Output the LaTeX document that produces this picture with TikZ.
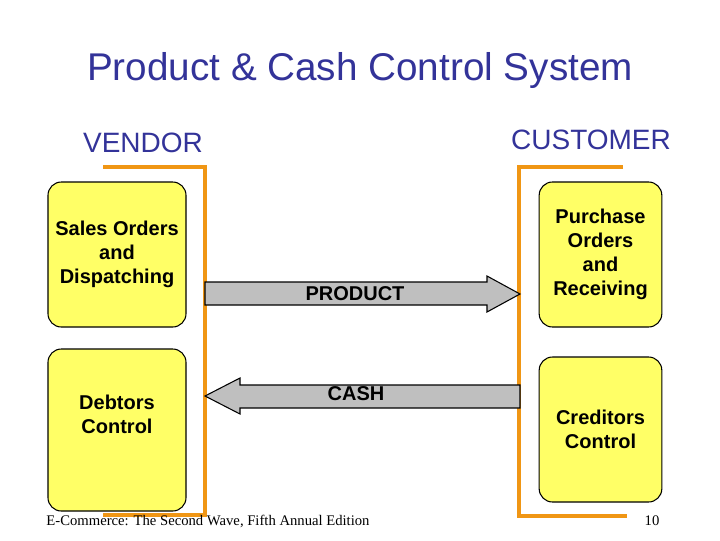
\documentclass[tikz,border=0pt]{standalone}
\usepackage{fontspec}
\setmainfont{Liberation Sans}
\newfontfamily\footfont{Liberation Serif}
\usetikzlibrary{positioning}
\definecolor{titleblue}{RGB}{51,51,153}
\definecolor{boxyellow}{RGB}{255,255,102}
\definecolor{lineorange}{RGB}{240,150,20}
\begin{document}
\begin{tikzpicture}[x=0.75pt,y=-0.75pt,
  box/.style={rectangle,rounded corners=10pt,draw=black,thick,fill=boxyellow,
    minimum width=103.5pt,align=center,font=\bfseries\fontsize{15}{18}\selectfont},
  side/.style={draw=lineorange,line width=3.5pt},
  flow/.style={draw=black,thick,fill=black!25}]
\useasboundingbox (0,0) rectangle (720,540);
\node[text=titleblue,font=\fontsize{29}{34}\selectfont] (title) at (360,70) {Product \& Cash Control System};
\node[text=titleblue,font=\fontsize{21}{25}\selectfont] (vendor) at (143,143) {VENDOR};
\node[text=titleblue,font=\fontsize{21}{25}\selectfont] (customer) at (591,140) {CUSTOMER};
% vendor side
\node[box,minimum height=108.75pt] (sales) at (117,254.5) {Sales Orders\\and\\Dispatching};
\node[box,minimum height=121.5pt] (debtors) at (117,430) {Debtors\\Control\\[6pt]};
% customer side
\node[box,minimum width=92pt,minimum height=108.75pt] (purchase) at (600.5,254.5) {Purchase\\Orders\\and\\Receiving};
\node[box,minimum width=92pt,minimum height=108.75pt] (creditors) at (600.5,429.5) {Creditors\\Control};
% orange brackets
\draw[side] (103,167) -- (205,167) -- (205,515) -- (103,515);
\draw[side] (623,167) -- (519,167) -- (519,516) -- (627,516);
% product arrow
\draw[flow] (205,282) -- (487,282) -- (487,276) -- (520,294) -- (487,312) -- (487,305) -- (205,305) -- cycle;
\node[font=\bfseries\fontsize{15}{18}\selectfont] (product) at (355,294) {PRODUCT};
% cash arrow
\draw[flow] (520,385) -- (240,385) -- (240,378) -- (205,396) -- (240,414) -- (240,408) -- (520,408) -- cycle;
\node[font=\bfseries\fontsize{15}{18}\selectfont] (cash) at (356,394) {CASH};
% footer
\node[font=\footfont\fontsize{11}{13}\selectfont] (foot) at (208,521) {E-Commerce: The Second Wave, Fifth Annual Edition};
\node[font=\footfont\fontsize{11}{13}\selectfont] (page) at (652,521) {10};
\end{tikzpicture}
\end{document}
